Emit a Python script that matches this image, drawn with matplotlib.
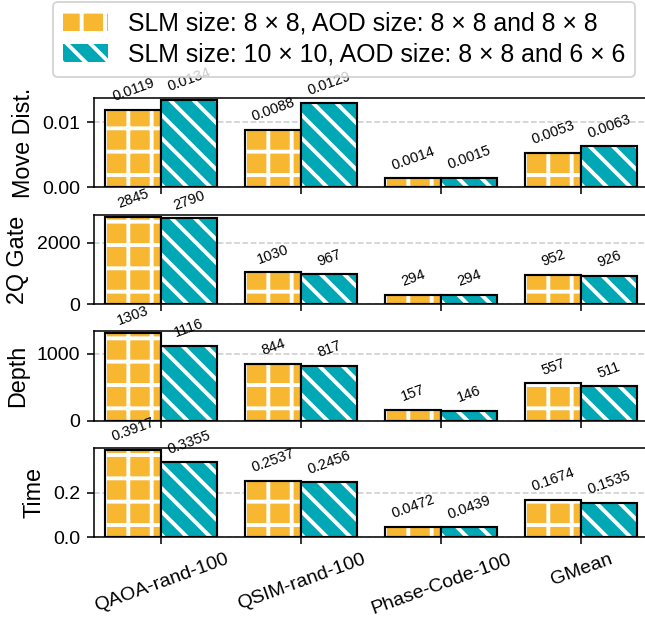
import matplotlib
matplotlib.use("Agg")
import matplotlib.pyplot as plt
import numpy as np

plt.rcParams['font.family'] = ['Liberation Sans', 'DejaVu Sans']
plt.rcParams['hatch.linewidth'] = 2.0

benchmarks = ["QAOA-rand-100", "QSIM-rand-100", "Phase-Code-100", "GMean"]
series_labels = ["SLM size: 8 × 8, AOD size: 8 × 8 and 8 × 8",
                 "SLM size: 10 × 10, AOD size: 8 × 8 and 6 × 6"]

move_a = [0.0119, 0.0088, 0.0014, 0.0053]
move_b = [0.0134, 0.0129, 0.0015, 0.0063]
gate_a = [2845, 1030, 294, 952]
gate_b = [2790, 967, 294, 926]
depth_a = [1303, 844, 157, 557]
depth_b = [1116, 817, 146, 511]
time_a = [0.3917, 0.2537, 0.0472, 0.1674]
time_b = [0.3355, 0.2456, 0.0439, 0.1535]

metrics = ["Move Dist.", "2Q Gate", "Depth", "Time"]
yticks = [[0, 0.01], [0, 2000], [0, 1000], [0, 0.2]]
fmts = ["{:.4f}", "{:d}", "{:d}", "{:.4f}"]

colors = ['#F7B731', '#00A8B5']
hatches = ['+', '\\\\']


def main():
    data = [(move_a, move_b), (gate_a, gate_b), (depth_a, depth_b), (time_a, time_b)]
    fig, axes = plt.subplots(4, 1, figsize=(645 / 140, 620 / 140), dpi=140, sharex=True)
    fig.subplots_adjust(left=0.1457, right=1.0053, bottom=0.1334, top=0.8415, hspace=0.307)

    x = np.arange(len(benchmarks))
    w = 0.4
    handles = []
    for i, ax in enumerate(axes):
        ax.set_axisbelow(True)
        ax.grid(axis='y', linestyle='--', color='#cccccc', linewidth=0.8)
        vmax = 0
        for j, vals in enumerate(data[i]):
            pos = x + (j - 0.5) * w
            h = ax.bar(pos, vals, w, color=colors[j], hatch=hatches[j],
                       edgecolor='white', linewidth=0, label=series_labels[j])
            ax.bar(pos, vals, w, color='none', edgecolor='black', linewidth=1.1)
            if i == 0:
                handles.append(h)
            for p, v in zip(pos, vals):
                ax.annotate(fmts[i].format(v), (p, v), xytext=(0, 3),
                            textcoords='offset points', ha='center', va='bottom',
                            rotation=20, fontsize=7.5)
            vmax = max(vmax, max(vals))
        ax.set_ylim(0, vmax * 1.02)
        ax.set_yticks(yticks[i])
        ax.set_ylabel(metrics[i], fontsize=12)
        ax.tick_params(axis='y', labelsize=10)
        ax.set_xlim(-0.48, 3.48)

    axes[-1].set_xticks(x)
    axes[-1].set_xticklabels(benchmarks, rotation=20, fontsize=10)

    fig.legend(handles=handles, loc='upper center', bbox_to_anchor=(0.534, 0.997),
               fontsize=12.8, borderaxespad=0, labelspacing=0.28, handlelength=1.8)

    fig.savefig("out.png", dpi=140)


if __name__ == "__main__":
    main()
